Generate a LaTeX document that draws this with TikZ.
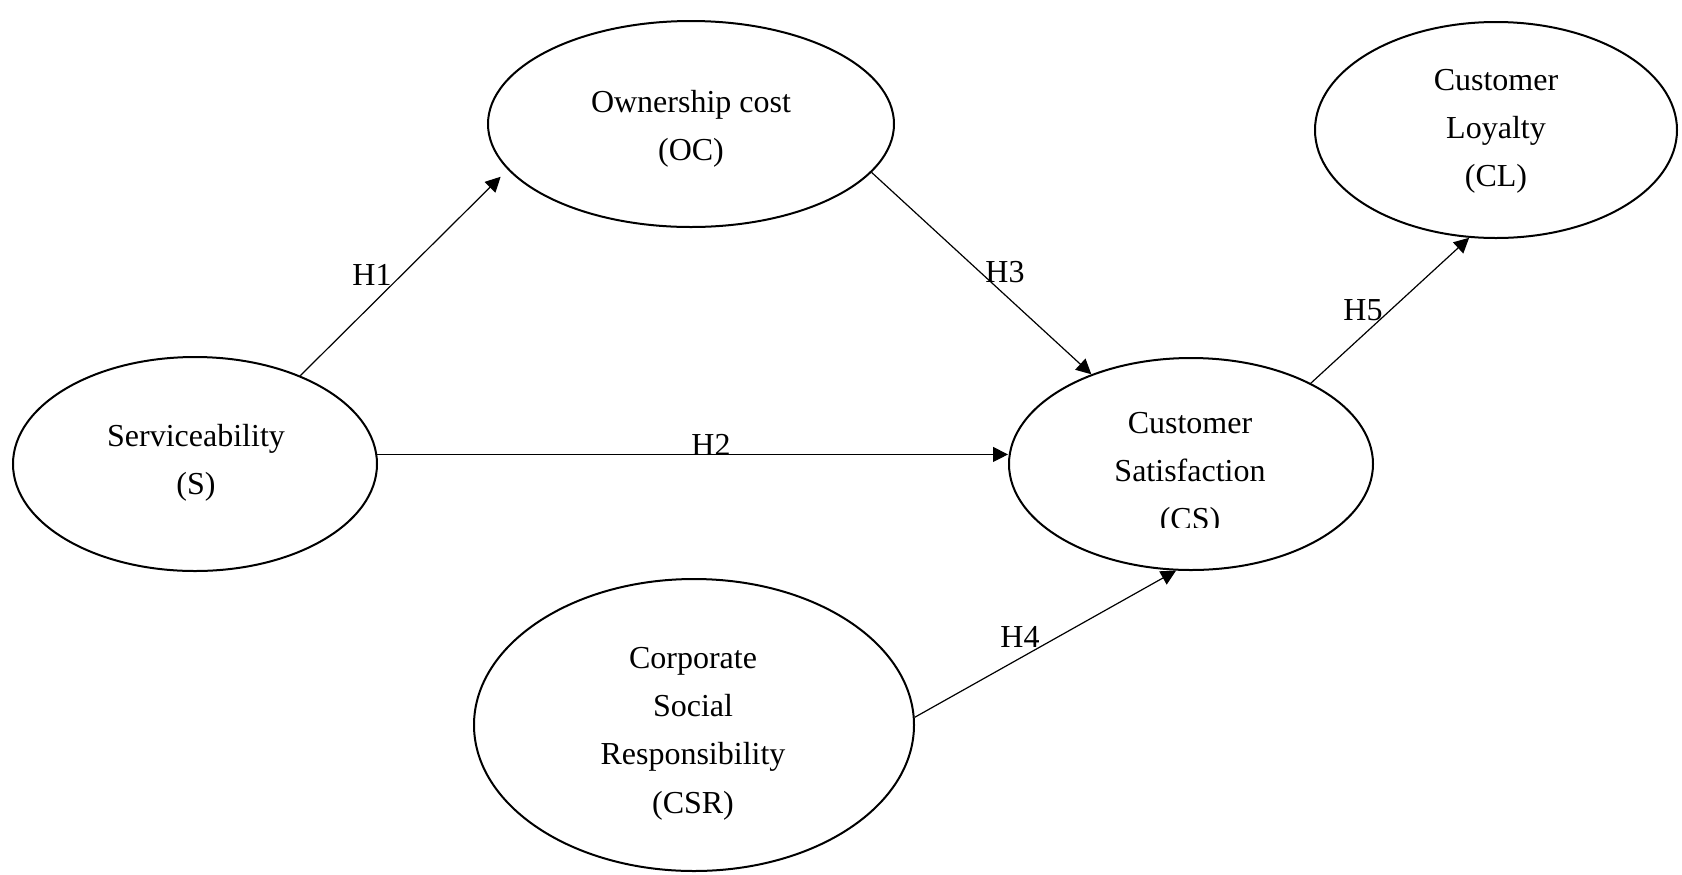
\documentclass[tikz,border=0pt]{standalone}
\usepackage{fontspec}
\setmainfont{Liberation Serif}
\usetikzlibrary{arrows.meta,shapes.geometric}
\begin{document}
\begin{tikzpicture}[x=0.5pt,y=-0.5pt,
  construct/.style={draw, ellipse, line width=1pt, inner sep=0pt},
  caption/.style={anchor=base, inner sep=0pt,
    font=\fontsize{16}{24.2}\selectfont},
  hyp/.style={anchor=base, inner sep=0pt,
    font=\fontsize{16}{24.2}\selectfont},
  link/.style={line width=0.6pt, -{Triangle[length=7.5pt,width=7.5pt]}}]
\useasboundingbox (0,0) rectangle (1682,874);

% constructs
\node[construct, minimum width=203pt, minimum height=103pt] (OC) at (691,124) {};
\node[construct, minimum width=181pt, minimum height=108pt] (CL) at (1496,130) {};
\node[construct, minimum width=182pt, minimum height=107pt] (S) at (195,464) {};
\node[construct, minimum width=182pt, minimum height=106pt] (CS) at (1191,464) {};
\node[construct, minimum width=220pt, minimum height=146pt] (CSR) at (694,725) {};

% construct names
\node[caption] (OCtext) at (691,112)
  {\begin{tabular}[t]{@{}c@{}}Ownership cost\\(OC)\end{tabular}};
\node[caption] (CLtext) at (1496,90)
  {\begin{tabular}[t]{@{}c@{}}Customer\\Loyalty\\(CL)\end{tabular}};
\node[caption] (Stext) at (196,446)
  {\begin{tabular}[t]{@{}c@{}}Serviceability\\(S)\end{tabular}};
\begin{scope}
  \clip (1000,380) rectangle (1400,527);
  \node[caption] (CStext) at (1190,433)
    {\begin{tabular}[t]{@{}c@{}}Customer\\Satisfaction\\(CS)\end{tabular}};
\end{scope}
\node[caption] (CSRtext) at (693,668)
  {\begin{tabular}[t]{@{}c@{}}Corporate\\Social\\Responsibility\\(CSR)\end{tabular}};

% hypothesised paths
\draw[link, shorten >=5pt] (S.40) -- (OC.194);
\draw[link] (S.3) -- (S.3 -| CS.west);
\draw[link] (OC.-15) -- (CS.138);
\draw[link] (CSR.2) -- (CS.262);
\draw[link] (CS.34) -- (CL.256);

% path labels
\node[hyp] (H1) at (372,285) {H1};
\node[hyp] (H2) at (711,455) {H2};
\node[hyp] (H3) at (1005,282) {H3};
\node[hyp] (H4) at (1020,647) {H4};
\node[hyp] (H5) at (1363,320) {H5};
\end{tikzpicture}
\end{document}
